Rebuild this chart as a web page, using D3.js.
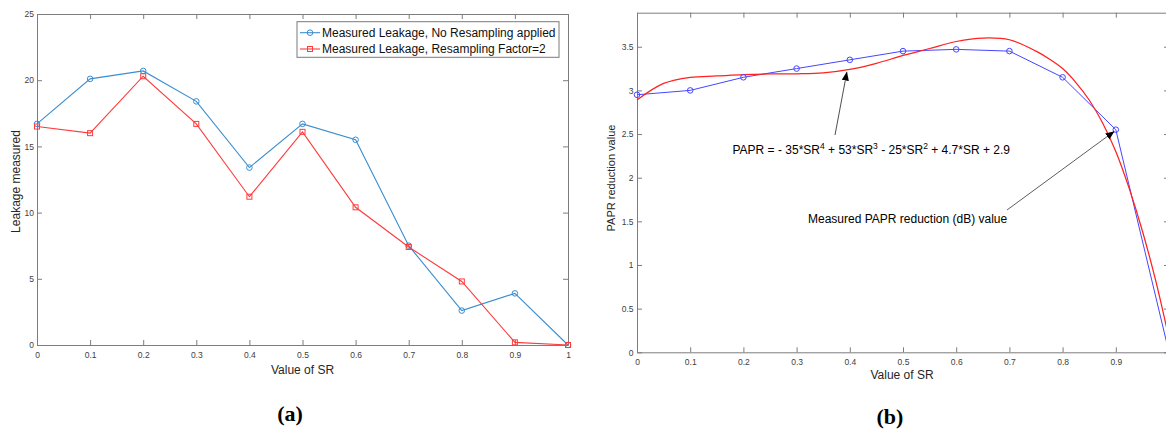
<!DOCTYPE html>
<html><head><meta charset="utf-8">
<script src="https://cdn.jsdelivr.net/npm/d3@7/dist/d3.min.js"></script>
<style>
body{margin:0;background:#fff}
svg text{font-family:"Liberation Sans",Arial,Helvetica,sans-serif}
</style>
</head><body>
<svg id="chart" width="1166" height="431"></svg>
<script>
// ---------- DATA ----------
const srValues = [0, 0.1, 0.2, 0.3, 0.4, 0.5, 0.6, 0.7, 0.8, 0.9, 1.0];
const leakNoResampling = [16.7, 20.1, 20.7, 18.4, 13.4, 16.7, 15.5, 7.5, 2.6, 3.9, 0];
const leakResampling2 = [16.5, 16.0, 20.3, 16.7, 11.2, 16.1, 10.4, 7.4, 4.8, 0.2, 0];
const leakTicks = [0, 5, 10, 15, 20, 25];
const srTicksA = [0, 0.1, 0.2, 0.3, 0.4, 0.5, 0.6, 0.7, 0.8, 0.9, 1];
const srTicksB = [0, 0.1, 0.2, 0.3, 0.4, 0.5, 0.6, 0.7, 0.8, 0.9];

const paprMeasured = [2.95, 3.0, 3.15, 3.25, 3.35, 3.45, 3.47, 3.45, 3.15, 2.55, 0.0];
const fitSR = [0, 0.05, 0.1, 0.15, 0.2, 0.25, 0.3, 0.35, 0.4, 0.45, 0.5, 0.55, 0.6, 0.65, 0.7, 0.75, 0.775, 0.8, 0.825, 0.85, 0.875, 0.9, 0.925, 0.95, 0.975, 1.0];
const fitPAPR = [2.89, 3.08, 3.15, 3.165, 3.18, 3.188, 3.19, 3.2, 3.24, 3.31, 3.4, 3.48, 3.56, 3.6, 3.58, 3.45, 3.36, 3.25, 3.09, 2.89, 2.63, 2.3, 1.88, 1.39, 0.82, 0.16];
const paprTicks = [0, 0.5, 1, 1.5, 2, 2.5, 3, 3.5];

const legendLabels = ["Measured Leakage, No Resampling applied", "Measured Leakage, Resampling Factor=2"];
const equationParts = [["PAPR = - 35*SR", "4"], [" + 53*SR", "3"], [" - 25*SR", "2"], [" + 4.7*SR + 2.9", null]];
const measuredNote = "Measured PAPR reduction (dB) value";

// ---------- STYLE ----------
const axisColor = "#7d7d7d";
const tickTextColor = "#404040";
const blueA = "#3a8dd0";
const redA = "#ff3a3a";
const blueB = "#4646ff";
const redB = "#ff2020";

const svg = d3.select("#chart");
svg.append("rect").attr("width", 1166).attr("height", 431).attr("fill", "#fff");

const defs = svg.append("defs");
defs.append("marker").attr("id", "arrow").attr("viewBox", "0 0 10 10")
  .attr("refX", 9).attr("refY", 5).attr("markerWidth", 9).attr("markerHeight", 9)
  .attr("markerUnits", "userSpaceOnUse").attr("orient", "auto")
  .append("path").attr("d", "M0,1 L10,5 L0,9 z").attr("fill", "#000");

function fmt(d) { return String(d); }

function drawBox(g, x, y, xt, yt, xPad, yPad) {
  const [x0, x1] = x.range();
  const [y0, y1] = y.range();
  const style = sel => {
    sel.select(".domain").attr("stroke", axisColor).attr("stroke-width", 1);
    sel.selectAll(".tick line").attr("stroke", axisColor);
    sel.selectAll(".tick text").attr("fill", tickTextColor).attr("font-size", "8.5px");
  };
  g.append("g").attr("transform", `translate(0,${y0})`)
    .call(d3.axisBottom(x).tickValues(xt).tickFormat(fmt).tickSizeInner(-5).tickSizeOuter(0).tickPadding(xPad)).call(style);
  g.append("g").attr("transform", `translate(0,${y1})`)
    .call(d3.axisTop(x).tickValues(xt).tickFormat("").tickSizeInner(-5).tickSizeOuter(0)).call(style);
  g.append("g").attr("transform", `translate(${x0},0)`)
    .call(d3.axisLeft(y).tickValues(yt).tickFormat(fmt).tickSizeInner(-5).tickSizeOuter(0).tickPadding(yPad)).call(style);
  g.append("g").attr("transform", `translate(${x1},0)`)
    .call(d3.axisRight(y).tickValues(yt).tickFormat("").tickSizeInner(-5).tickSizeOuter(0)).call(style);
}

// ---------- PANEL (a) ----------
const xa = d3.scaleLinear().domain([0, 1]).range([37, 568]);
const ya = d3.scaleLinear().domain([0, 25]).range([345, 14]);
const ga = svg.append("g");
drawBox(ga, xa, ya, srTicksA, leakTicks, 7, 3);

const lineA = d3.line().x((d, i) => xa(srValues[i])).y(d => ya(d));
ga.append("path").datum(leakNoResampling).attr("d", lineA).attr("fill", "none").attr("stroke", blueA).attr("stroke-width", 1.1);
ga.append("path").datum(leakResampling2).attr("d", lineA).attr("fill", "none").attr("stroke", redA).attr("stroke-width", 1.1);
ga.selectAll(".mb").data(leakNoResampling).join("circle")
  .attr("cx", (d, i) => xa(srValues[i])).attr("cy", d => ya(d)).attr("r", 2.8)
  .attr("fill", "none").attr("stroke", blueA).attr("stroke-width", 1);
ga.selectAll(".mr").data(leakResampling2).join("rect")
  .attr("x", (d, i) => xa(srValues[i]) - 2.5).attr("y", d => ya(d) - 2.5).attr("width", 5).attr("height", 5)
  .attr("fill", "none").attr("stroke", redA).attr("stroke-width", 1);

ga.append("text").attr("x", (xa.range()[0] + xa.range()[1]) / 2).attr("y", 374)
  .attr("text-anchor", "middle").attr("font-size", "12px").attr("fill", "#262626").text("Value of SR");
ga.append("text").attr("transform", `translate(20,181.5) rotate(-90)`)
  .attr("text-anchor", "middle").attr("font-size", "12px").attr("fill", "#262626").text("Leakage measured");

// legend
const lg = ga.append("g").attr("transform", `translate(${xa(1) - 271},${ya(25) + 7.7})`);
lg.append("rect").attr("width", 262).attr("height", 35.6).attr("fill", "#fff").attr("stroke", "#7a7a7a").attr("stroke-width", 1);
[[blueA, "circle"], [redA, "rect"]].forEach(([c, shape], i) => {
  const yy = 11 + i * 16.3;
  lg.append("line").attr("x1", 3).attr("x2", 23).attr("y1", yy).attr("y2", yy).attr("stroke", c).attr("stroke-width", 1.1);
  if (shape === "circle") lg.append("circle").attr("cx", 13).attr("cy", yy).attr("r", 2.8).attr("fill", "none").attr("stroke", c);
  else lg.append("rect").attr("x", 10.5).attr("y", yy - 2.5).attr("width", 5).attr("height", 5).attr("fill", "none").attr("stroke", c);
  lg.append("text").attr("x", 25).attr("y", yy + 4.2).attr("font-size", "12px").attr("fill", "#111").text(legendLabels[i]);
});

// ---------- PANEL (b) ----------
const xb = d3.scaleLinear().domain([0, 1]).range([637, 1169]);
const yb = d3.scaleLinear().domain([0, 3.89]).range([352.3, 12.7]);
const gb = svg.append("g");
drawBox(gb, xb, yb, srTicksB, paprTicks, 6.5, 3.5);

const lineB = d3.line().x((d, i) => xb(srValues[i])).y(d => yb(d));
gb.append("path").datum(paprMeasured).attr("d", lineB).attr("fill", "none").attr("stroke", blueB).attr("stroke-width", 1);
const fitLine = d3.line().x((d, i) => xb(fitSR[i])).y(d => yb(d)).curve(d3.curveCatmullRom.alpha(0.5));
gb.append("path").datum(fitPAPR).attr("d", fitLine).attr("fill", "none").attr("stroke", redB).attr("stroke-width", 1.25);
gb.selectAll(".mp").data(paprMeasured).join("circle")
  .attr("cx", (d, i) => xb(srValues[i])).attr("cy", d => yb(d)).attr("r", 2.8)
  .attr("fill", "none").attr("stroke", blueB).attr("stroke-width", 1);

gb.append("text").attr("x", 902).attr("y", 379)
  .attr("text-anchor", "middle").attr("font-size", "12px").attr("fill", "#262626").text("Value of SR");
gb.append("text").attr("transform", `translate(615,178) rotate(-90)`)
  .attr("text-anchor", "middle").attr("font-size", "11px").attr("fill", "#262626").text("PAPR reduction value");

// annotations
const eq = gb.append("text").attr("x", 732.5).attr("y", 154).attr("font-size", "12px").attr("fill", "#000");
let prevSup = false;
equationParts.forEach(([base, sup]) => {
  eq.append("tspan").attr("dy", prevSup ? 5 : 0).text(base);
  if (sup) eq.append("tspan").attr("font-size", "8.5px").attr("dy", -5).text(sup);
  prevSup = !!sup;
});
gb.append("line").attr("x1", 835).attr("y1", 135).attr("x2", xb(0.4) - 3).attr("y2", yb(3.24) + 3)
  .attr("stroke", "#222").attr("stroke-width", 0.8).attr("marker-end", "url(#arrow)");

gb.append("text").attr("x", 808).attr("y", 223).attr("font-size", "12px").attr("fill", "#000").text(measuredNote);
gb.append("line").attr("x1", 1007).attr("y1", 210).attr("x2", xb(0.9) - 2).attr("y2", yb(2.55) + 2)
  .attr("stroke", "#333").attr("stroke-width", 0.8).attr("marker-end", "url(#arrow)");

// panel labels
svg.append("text").attr("x", 290).attr("y", 421).attr("text-anchor", "middle")
  .attr("font-weight", "bold").attr("font-size", "22px").text("(a)")
  .style("font-family", "'Liberation Serif','DejaVu Serif',serif");
svg.append("text").attr("x", 890).attr("y", 424).attr("text-anchor", "middle")
  .attr("font-weight", "bold").attr("font-size", "22px").text("(b)")
  .style("font-family", "'Liberation Serif','DejaVu Serif',serif");
</script>
</body></html>
